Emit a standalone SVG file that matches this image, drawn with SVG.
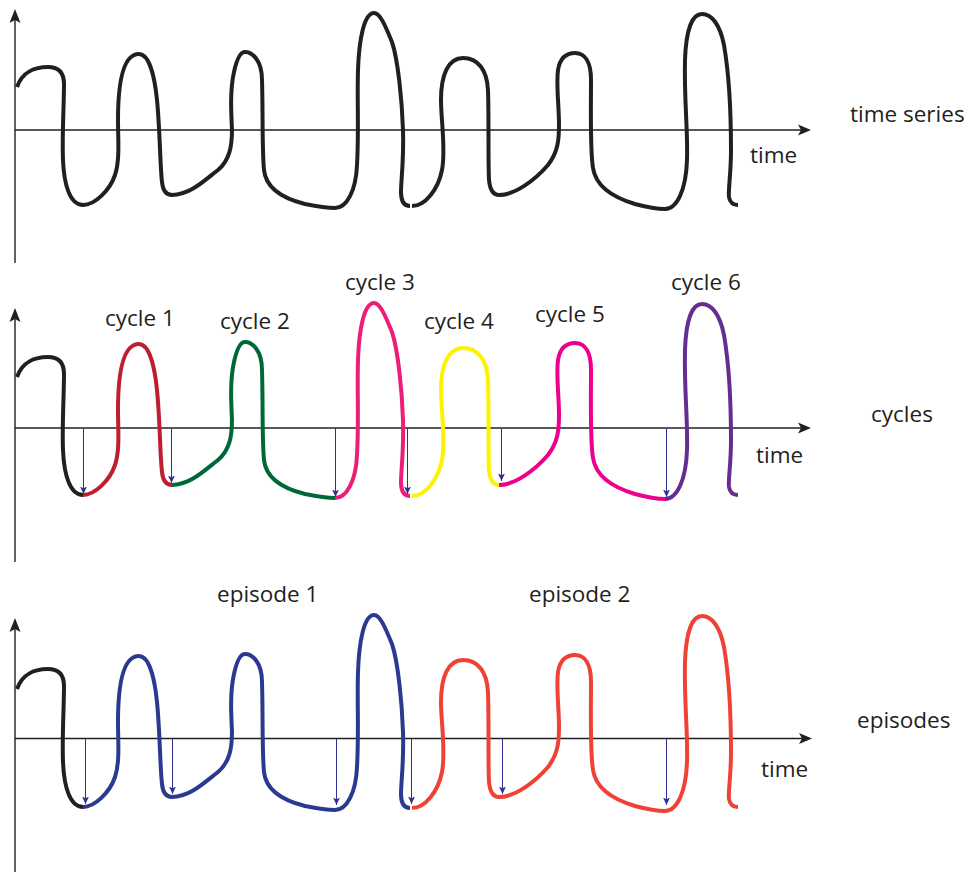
<svg xmlns="http://www.w3.org/2000/svg" xmlns:xlink="http://www.w3.org/1999/xlink" width="970" height="872" viewBox="0 0 970 872">
<style>
  .axis{stroke:#231f20;stroke-width:1.4;fill:none}
  .head{fill:#231f20}
  .wave{fill:none;stroke-width:4;stroke-linejoin:round;stroke-linecap:butt}
  .lbl{font-family:"Open Sans","Noto Sans",sans-serif;font-size:22.5px;fill:#231f20}
  .mark{stroke:#2e3192;stroke-width:1;fill:none}
</style>
<defs>
  <marker id="ah" viewBox="0 0 8 10" refX="7.5" refY="5" markerWidth="8" markerHeight="10" markerUnits="userSpaceOnUse" orient="auto">
    <path d="M0,1.5 L7.5,5 L0,8.5 L1.8,5 Z" fill="#2e3192"/>
  </marker>
  <path id="s0" d="M17,87 C22,72 35,67 48,67 C58,67 64,72 64,84 C64,105 62,135 63,160 C64,185 70,205 83,205"/>
  <path id="s1" d="M83,205 C95,205 110,190 115,175 C120,160 118,140 118,120 C118,95 120,54 139,54 C150,54 155,80 157,100 C160,130 160,165 162,182 C163,192 167,195 172,195"/>
  <path id="s2" d="M172,195 C190,195 205,180 218,170 C230,160 232,145 232,130 C231,110 230,90 234,72 C237,58 241,52 245,52 C252,52 262,60 262,80 C263,110 262,150 264,170 C266,190 285,199 305,204 C320,207 328,208 335,208"/>
  <path id="s3" d="M335,208 C347,208 356,190 357,165 C359,130 357,100 358,70 C359,40 364,13 374,13 C380,13 385,25 392,42 C398,60 402,100 403,130 C404,160 401,180 401,192 C401,203 405,206 410,206"/>
  <path id="s4" d="M412,206 C425,206 438,190 442,170 C446,150 441,120 441,100 C441,75 448,58 463,58 C478,58 487,70 488,90 C489,120 488,160 489,180 C490,190 494,195 499,195"/>
  <path id="s5" d="M499,195 C515,195 535,180 548,165 C558,152 559,140 559,125 C559,105 556,85 558,70 C560,58 566,53 575,53 C585,53 591,62 591,80 C591,110 590,150 593,168 C596,188 615,198 635,204 C650,208 658,209 665,209"/>
  <path id="s6" d="M665,209 C677,209 686,190 687,160 C688,130 684,100 685,60 C686,30 692,14 702,14 C712,14 720,25 724,45 C730,80 731,120 731,150 C731,175 728,190 729,197 C730,203 734,205 738,205"/>
</defs>

<g id="panel-time-series">
  <line class="axis" x1="15" y1="263" x2="15" y2="18"/>
  <path class="head" d="M15,9 L20.5,23 L15,20 L9.5,23 Z"/>
  <line class="axis" x1="15" y1="130" x2="803" y2="130"/>
  <path class="head" d="M811,130 L798,135.5 L801,130 L798,124.5 Z"/>
  <g class="wave" stroke="#231f20">
    <use xlink:href="#s0"/><use xlink:href="#s1"/><use xlink:href="#s2"/><use xlink:href="#s3"/>
    <use xlink:href="#s4"/><use xlink:href="#s5"/><use xlink:href="#s6"/>
  </g>
  <text class="lbl" x="750" y="163">time</text>
  <text class="lbl" x="850" y="122">time series</text>
</g>

<g id="panel-cycles">
  <line class="axis" x1="15" y1="562" x2="15" y2="317"/>
  <path class="head" d="M15,308 L20.5,322 L15,319 L9.5,322 Z"/>
  <line class="axis" x1="15" y1="428" x2="803" y2="428"/>
  <path class="head" d="M811,428 L798,433.5 L801,428 L798,422.5 Z"/>
  <g class="wave" transform="translate(0,290)">
    <use xlink:href="#s0" stroke="#231f20"/>
    <use xlink:href="#s1" stroke="#be1e2d"/>
    <use xlink:href="#s2" stroke="#006838"/>
    <use xlink:href="#s3" stroke="#ed1e79"/>
    <use xlink:href="#s4" stroke="#fff200"/>
    <use xlink:href="#s5" stroke="#ec008c"/>
    <use xlink:href="#s6" stroke="#662d91"/>
  </g>
  <text class="lbl" x="105" y="326">cycle 1</text>
  <text class="lbl" x="220" y="329">cycle 2</text>
  <text class="lbl" x="345" y="290">cycle 3</text>
  <text class="lbl" x="424" y="329">cycle 4</text>
  <text class="lbl" x="535" y="322">cycle 5</text>
  <text class="lbl" x="671" y="290">cycle 6</text>
  <text class="lbl" x="756" y="463">time</text>
  <text class="lbl" x="871" y="422">cycles</text>
</g>

<g id="panel-episodes">
  <line class="axis" x1="15" y1="872" x2="15" y2="627"/>
  <path class="head" d="M15,618 L20.5,632 L15,629 L9.5,632 Z"/>
  <line class="axis" x1="15" y1="738.5" x2="804" y2="738.5"/>
  <path class="head" d="M812,738.5 L799,744 L802,738.5 L799,733 Z"/>
  <g class="wave" transform="translate(0,602)">
    <use xlink:href="#s0" stroke="#231f20"/>
    <use xlink:href="#s1" stroke="#2b3990"/>
    <use xlink:href="#s2" stroke="#2b3990"/>
    <use xlink:href="#s3" stroke="#2b3990"/>
    <use xlink:href="#s4" stroke="#ef4136"/>
    <use xlink:href="#s5" stroke="#ef4136"/>
    <use xlink:href="#s6" stroke="#ef4136"/>
  </g>
  <text class="lbl" x="217" y="602">episode 1</text>
  <text class="lbl" x="529" y="602">episode 2</text>
  <text class="lbl" x="761" y="777">time</text>
  <text class="lbl" x="857" y="728">episodes</text>
</g>

<g id="connectors">
  <line class="mark" x1="83.5" y1="428" x2="83.5" y2="494" marker-end="url(#ah)"/>
  <line class="mark" x1="171.5" y1="428" x2="171.5" y2="483" marker-end="url(#ah)"/>
  <line class="mark" x1="335.5" y1="428" x2="335.5" y2="497" marker-end="url(#ah)"/>
  <line class="mark" x1="407.5" y1="428" x2="407.5" y2="494" marker-end="url(#ah)"/>
  <line class="mark" x1="501.5" y1="428" x2="501.5" y2="481" marker-end="url(#ah)"/>
  <line class="mark" x1="666.5" y1="428" x2="666.5" y2="497" marker-end="url(#ah)"/>
  <line class="mark" x1="85.5" y1="739" x2="85.5" y2="804" marker-end="url(#ah)"/>
  <line class="mark" x1="172.5" y1="739" x2="172.5" y2="794" marker-end="url(#ah)"/>
  <line class="mark" x1="336.5" y1="739" x2="336.5" y2="805" marker-end="url(#ah)"/>
  <line class="mark" x1="411.5" y1="739" x2="411.5" y2="804" marker-end="url(#ah)"/>
  <line class="mark" x1="502.5" y1="739" x2="502.5" y2="794" marker-end="url(#ah)"/>
  <line class="mark" x1="666.5" y1="739" x2="666.5" y2="805" marker-end="url(#ah)"/>
</g>
</svg>
